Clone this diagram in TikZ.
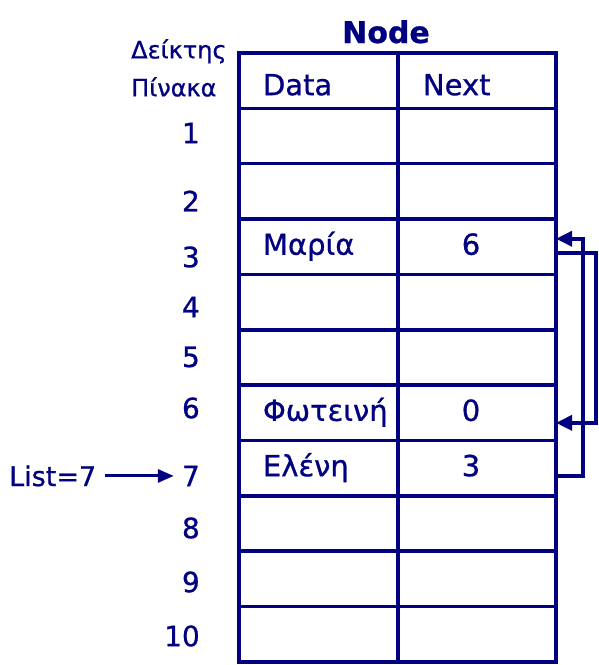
\documentclass[tikz,border=0pt]{standalone}
\usepackage{fontspec}
\setmainfont{DejaVu Sans}[FakeBold=0.8]
\usetikzlibrary{arrows.meta,positioning}
\definecolor{inkblue}{RGB}{0,0,128}
\tikzstyle{cell} = [draw=inkblue, line width=3.5pt, rectangle, outer sep=0pt,
    minimum height=55.36pt, text height=22pt, text depth=6pt,
    font=\fontsize{29}{34}\selectfont, text=inkblue, anchor=north west]
\tikzstyle{datacell} = [cell, text width=111pt, inner xsep=24pt, align=left]
\tikzstyle{nextcell} = [cell, text width=108pt, inner xsep=25pt, align=center]
\tikzstyle{headcell} = [text height=33pt, text depth=4pt]
\tikzstyle{index} = [text=inkblue, font=\fontsize{28}{34}\selectfont,
    anchor=east, inner xsep=8pt]
\tikzstyle{link} = [draw=inkblue, line width=3.5pt,
    -{Triangle[length=16pt,width=15pt]}]

\begin{document}
\begin{tikzpicture}[x=1pt,y=-1pt]
\useasboundingbox (0,0) rectangle (599,665);

% table
\node[datacell, headcell] (dh) at (239,53) {Data};
\node[nextcell, headcell, align=left] (nh) at (398,53) {Next};
\foreach \r/\da/\nx in {1//,2//,3/Μαρία/6,4//,5//,6/Φωτεινή/0,7/Ελένη/3,8//,9//,10//}{
  \node[datacell] (d\r) at (239,53+\r*55.36) {\da};
  \node[nextcell] (n\r) at (398,53+\r*55.36) {\nx\hspace*{12pt}};
}
\node[text=inkblue, font=\bfseries\fontsize{30}{36}\selectfont, anchor=base]
    (title) at (386,43) {Node};

% indices
\node[text=inkblue, font=\fontsize{24}{38}\selectfont, align=left,
    anchor=north west, inner sep=0pt] (idxhead) at (131,39) {Δείκτης\\Πίνακα};
\foreach \r/\y in {1/133,2/201,3/257,4/307,5/357,6/408,7/476,8/528,9/582,10/636}
  \node[index] (i\r) at (208,\y) {\r};

\node[text=inkblue, font=\fontsize{27}{32}\selectfont, anchor=base west,
    inner xsep=9pt] (list) at (0,486) {List=7};
\draw[draw=inkblue, line width=3pt, -{Triangle[length=16pt,width=13pt]}]
    (list.east) -- (list.east -| i7.west);

% next links
\draw[link] ([yshift=-8pt]n7.east) -- ++(27,0) |- ([yshift=8pt]n3.east);
\draw[link] ([yshift=-6pt]n3.east) -- ++(40,0) |- ([yshift=-10pt]n6.east);
\end{tikzpicture}
\end{document}
